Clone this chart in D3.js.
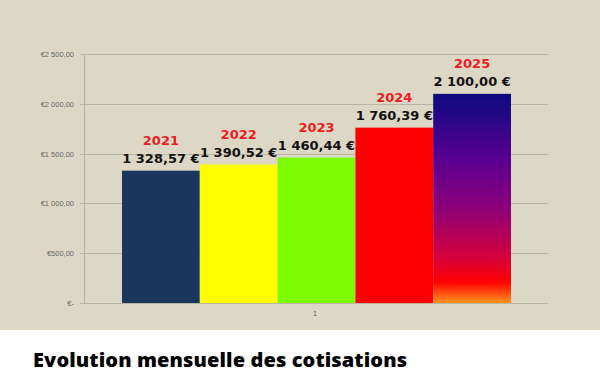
<!DOCTYPE html>
<html>
<head>
<meta charset="utf-8">
<script src="https://cdn.jsdelivr.net/npm/d3@7"></script>
<style>
  body { margin: 0; background: #fff; }
  svg { display: block; }
</style>
</head>
<body>
<svg id="canvas" width="600" height="385"></svg>
<script>
let years = ["2021", "2022", "2023", "2024", "2025"];
let amounts = [1328.57, 1390.52, 1460.44, 1760.39, 2100.00];
let barColors = ["#1b365d", "#ffff00", "#7cfc00", "#ff0000", "url(#grad2025)"];
let yTicks = [0, 500, 1000, 1500, 2000, 2500];
let category = ["1"];

let svg = d3.select("#canvas");

// fond du graphique
svg.append("rect").attr("x", 0).attr("y", 0).attr("width", 600).attr("height", 330).attr("fill", "#ddd8c5");

let grad = svg.append("defs").append("linearGradient")
  .attr("id", "grad2025").attr("x1", 0).attr("y1", 0).attr("x2", 0).attr("y2", 1);
[["0%", "#0c0a80"], ["30%", "#560092"], ["55%", "#8e0078"], ["78%", "#d4003c"], ["90%", "#ff0000"], ["100%", "#ff9420"]]
  .forEach((s) => grad.append("stop").attr("offset", s[0]).attr("stop-color", s[1]));

let y = d3.scaleLinear().domain([0, 2500]).range([303, 54]);
let xCat = d3.scaleBand().domain(category).range([84, 548]);
let x = d3.scaleBand().domain(years).range([122, 511]).padding(0);

let frEuro = (v) => {
  let s = d3.format(",.2f")(v).replace(/,/g, " ").replace(".", ",");
  return s;
};

// grille
svg.append("g")
  .selectAll("line")
  .data(yTicks)
  .enter()
  .append("line")
  .attr("x1", 80)
  .attr("x2", 548)
  .attr("y1", (d) => Math.round(y(d)) + 0.5)
  .attr("y2", (d) => Math.round(y(d)) + 0.5)
  .attr("stroke", "#b9b5a5")
  .attr("stroke-width", 1.2);

svg.append("line")
  .attr("x1", 84.5).attr("x2", 84.5).attr("y1", 54).attr("y2", 303)
  .attr("stroke", "#b9b5a5").attr("stroke-width", 1.2);

svg.append("g")
  .selectAll("text")
  .data(yTicks)
  .enter()
  .append("text")
  .attr("x", 74)
  .attr("y", (d) => y(d) + 3)
  .attr("text-anchor", "end")
  .attr("font-family", "Liberation Sans, Arial, sans-serif")
  .attr("font-size", 7.5)
  .attr("fill", "#666")
  .text((d) => d === 0 ? "€-" : "€" + frEuro(d));

svg.append("text")
  .attr("x", xCat("1") + xCat.bandwidth() / 2 - 1)
  .attr("y", 316)
  .attr("text-anchor", "middle")
  .attr("font-family", "Liberation Sans, Arial, sans-serif")
  .attr("font-size", 7)
  .attr("fill", "#555")
  .text(category[0]);

// barres
svg.append("g")
  .selectAll("rect")
  .data(years)
  .enter()
  .append("rect")
  .attr("x", (d) => x(d))
  .attr("y", (d, i) => y(amounts[i]))
  .attr("width", x.bandwidth())
  .attr("height", (d, i) => 303 - y(amounts[i]))
  .attr("fill", (d, i) => barColors[i]);

// étiquettes
let labels = svg.append("g")
  .attr("font-family", "DejaVu Sans, sans-serif")
  .attr("font-weight", "bold")
  .attr("text-anchor", "middle");

labels.selectAll(".val")
  .data(years)
  .enter()
  .append("text")
  .attr("class", "val")
  .attr("x", (d) => x(d) + x.bandwidth() / 2)
  .attr("y", (d, i) => y(amounts[i]) - 8)
  .attr("font-size", 13)
  .attr("fill", "#111")
  .text((d, i) => frEuro(amounts[i]) + " €");

labels.selectAll(".year")
  .data(years)
  .enter()
  .append("text")
  .attr("class", "year")
  .attr("x", (d) => x(d) + x.bandwidth() / 2)
  .attr("y", (d, i) => y(amounts[i]) - 26)
  .attr("font-size", 13)
  .attr("fill", "#ec1c24")
  .text((d) => d);

svg.append("text")
  .attr("x", 33)
  .attr("y", 367)
  .attr("font-family", "Open Sans, Noto Sans, sans-serif")
  .attr("font-weight", 800)
  .attr("font-size", 20)
  .attr("textLength", 374)
  .attr("fill", "#000")
  .text("Evolution mensuelle des cotisations");
</script>
</body>
</html>
